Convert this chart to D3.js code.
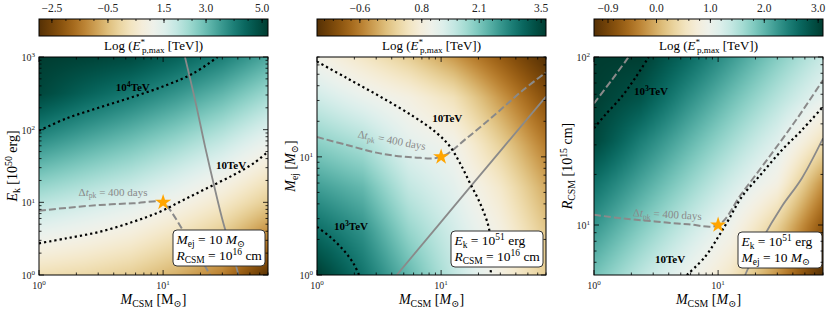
<!DOCTYPE html>
<html>
<head>
<meta charset="utf-8">
<script src="https://cdn.jsdelivr.net/npm/d3@7"></script>
<style>
  body { margin: 0; background: #fff; }
  svg { display: block; }
  text { font-family: "Liberation Serif", "DejaVu Serif", serif; }
</style>
</head>
<body>
<svg id="chart" width="830" height="310"></svg>
<script>
// ---------- data ----------
var mcsmDomain = [1, 70];
var ekDomain = [1, 1000];
var mejDomain = [1, 70];
var rcsmDomain = [5.04, 100];

var cbRange1 = [-2.96, 5.21], cbTicks1 = [-2.5, -0.5, 1.5, 3.0, 5.0];
var cbRange2 = [-1.57, 3.61], cbTicks2 = [-0.6, 0.8, 2.1, 3.5];
var cbRange3 = [-1.16, 3.09], cbTicks3 = [-0.9, 0.0, 1.0, 2.0, 3.0];

// heatmap nodes: columns = M_CSM, rows = y axis from top to bottom
var gridM = [1, 2.34, 5.5, 12.6, 30, 70];
var gridEk = [1000, 316, 100, 31.6, 10, 3.16, 1];
var logE1 = [
  [5.2, 5.1, 4.94, 4.5, 4.0, 3.34],
  [5.0, 4.5, 4.08, 3.64, 3.11, 2.44],
  [4.03, 3.6, 3.21, 2.77, 2.23, 1.54],
  [3.06, 2.7, 2.35, 1.9, 1.35, 0.64],
  [2.1, 1.8, 1.48, 1.03, 0.47, -0.26],
  [1.12, 0.9, 0.62, 0.16, -0.41, -1.4],
  [0.15, 0.0, -0.25, -0.7, -1.4, -2.9]
];
var gridMej = [70, 31.6, 12.6, 5.5, 2.34, 1];
var logE2 = [
  [0.93, 0.55, 0.15, -0.35, -0.95, -1.57],
  [1.43, 1.12, 0.85, 0.45, -0.35, -1.1],
  [2.0, 1.75, 1.22, 0.97, 0.2, -0.6],
  [2.52, 2.25, 1.55, 1.2, 0.6, -0.2],
  [3.04, 2.65, 1.9, 1.4, 0.85, 0.1],
  [3.6, 2.95, 2.25, 1.56, 0.85, 0.16]
];
var gridR = [100, 56.2, 31.6, 17.8, 10, 5.04];
var logE3 = [
  [3.09, 3.08, 2.67, 2.24, 1.79, 1.36],
  [3.07, 2.85, 2.35, 1.92, 1.48, 1.05],
  [2.99, 2.47, 2.03, 1.61, 1.16, 0.5],
  [2.59, 2.15, 1.72, 1.29, 0.84, -0.2],
  [2.27, 1.83, 1.4, 0.97, 0.3, -0.7],
  [1.89, 1.45, 1.02, 0.59, -0.2, -1.16]
];

// contour / constraint lines as [M_CSM, y] points
var p1Tev10 = [[1, 2.73], [1.67, 3.2], [3.1, 3.94], [5.76, 5.41], [9.46, 7.43], [14.6, 10.8], [22.5, 15.6], [36.9, 23.8], [53.5, 34.4], [70, 49.7]];
var p1Tev1e4 = [[1, 96.6], [1.67, 143], [3.1, 203], [5.76, 284], [10.7, 411], [17.5, 595], [27.5, 1000]];
var p1Dt400 = [[1, 7.67], [1.67, 8.4], [3.1, 9.18], [5.76, 9.7], [10, 10], [11.4, 7.8], [15.5, 3.37], [21.1, 1.45], [23.9, 1]];
var p1Solid = [[15.0, 1000], [18.1, 255], [21.8, 58], [25.5, 18.2], [30.6, 5.14], [36.9, 1.79], [40.5, 1]];

var p2Tev10 = [[1, 64], [1.74, 46.4], [3.22, 32.4], [5.98, 22], [9.23, 15.9], [11.8, 12.2], [14.2, 8.84], [17.1, 5.98], [20.6, 4.05], [24.1, 2.57], [25.1, 1.86], [25.1, 1]];
var p2Tev1e3 = [[1, 2.55], [1.27, 2.11], [1.63, 1.63], [1.96, 1.26], [2.18, 1]];
var p2Dt400 = [[1, 14.7], [1.74, 12.6], [3.22, 10.7], [5.98, 9.9], [10, 10], [16.1, 14.4], [28.1, 23.5], [46.1, 37], [70, 51.8]];
var p2Solid = [[4.39, 1], [17.5, 5.7], [70, 32.4]];

var p3Tev1e3 = [[1, 37.7], [1.23, 45.2], [1.67, 58], [2.14, 74.7], [2.76, 100]];
var p3DtTop = [[1, 53], [1.39, 72.9], [1.9, 100]];
var p3Tev10 = [[5.6, 5.04], [7.86, 6.47], [10.05, 8.52], [12.1, 10.7], [15.5, 14.7], [22.5, 20.3], [32.6, 27.9], [47.3, 36.7], [70, 50.6]];
var p3Dt400 = [[1, 11.5], [1.67, 10.96], [3.1, 10.5], [5.76, 10.1], [10, 10], [15.5, 15.4], [27.1, 26.7], [44.4, 44.2], [70, 73]];
var p3Solid = [[16.5, 5.04], [22.5, 8.14], [32.6, 12.9], [47.3, 19], [70, 32.8]];

var starPoint = [10, 10];

// ---------- layout ----------
var W = 229, H = 218, TOP = 57;
var GRAY = "#8a8a8a";
var svg = d3.select("#chart");
var fmt = d3.format(".1f");

// rich text: parts are [text, code]; r roman, i italic, b bold, s sub, p sup, bp bold sup
function rich(g, parts, size) {
  var t = g.append("text").attr("font-size", size);
  var shift = 0;
  parts.forEach(function(p) {
    var code = p[1] || "r";
    var s = t.append("tspan").text(p[0]);
    var target = 0;
    if (code.indexOf("s") === 0) target = size * 0.22;
    if (code.indexOf("p") >= 0) target = -size * 0.38;
    if (target !== shift) s.attr("dy", target - shift);
    shift = target;
    if (target !== 0) s.attr("font-size", size * 0.7);
    if (code.indexOf("i") >= 0) s.attr("font-style", "italic");
    if (code.indexOf("b") >= 0) s.attr("font-weight", "bold");
    if (p[2]) s.attr("dx", p[2]);
  });
  return t;
}

function bilerp(gx, gy, vals, lx, ly) {
  var c = 0; while (c < gx.length - 2 && lx > gx[c + 1]) c++;
  var r = 0; while (r < gy.length - 2 && ly < gy[r + 1]) r++;
  var tx = Math.max(0, Math.min(1, (lx - gx[c]) / (gx[c + 1] - gx[c])));
  var ty = Math.max(0, Math.min(1, (ly - gy[r]) / (gy[r + 1] - gy[r])));
  var a = vals[r][c] * (1 - tx) + vals[r][c + 1] * tx;
  var b = vals[r + 1][c] * (1 - tx) + vals[r + 1][c + 1] * tx;
  return a * (1 - ty) + b * ty;
}

function isPow10(v) {
  var l = Math.log10(v);
  return Math.abs(l - Math.round(l)) < 1e-9;
}

function drawPanel(p, idx) {
  var x = d3.scaleLog().domain(mcsmDomain).range([0, W]);
  var y = d3.scaleLog().domain(p.yDomain).range([H, 0]);
  var colour = d3.scaleSequential(d3.interpolateBrBG).domain(p.cbRange);

  // colorbar
  var cb = svg.append("g").attr("transform", "translate(" + p.left + ",19)");
  var cx = d3.scaleLinear().domain(p.cbRange).range([0, W]);
  var grad = svg.append("defs").append("linearGradient").attr("id", "cbg" + idx);
  d3.range(0, 1.0001, 0.05).forEach(function(t) {
    grad.append("stop").attr("offset", t).attr("stop-color", d3.interpolateBrBG(t));
  });
  cb.append("rect").attr("width", W).attr("height", 17)
    .attr("fill", "url(#cbg" + idx + ")").attr("stroke", "#000").attr("stroke-width", 1);
  var mt = Math.ceil(p.cbRange[0] / p.cbMinor) * p.cbMinor;
  for (var v = mt; v <= p.cbRange[1]; v += p.cbMinor) {
    cb.append("line").attr("x1", cx(v)).attr("x2", cx(v)).attr("y1", 0).attr("y2", 2)
      .attr("stroke", "#000").attr("stroke-width", 0.8);
  }
  p.cbTicks.forEach(function(v) {
    cb.append("line").attr("x1", cx(v)).attr("x2", cx(v)).attr("y1", 0).attr("y2", 4)
      .attr("stroke", "#000").attr("stroke-width", 0.8);
    cb.append("text").attr("x", cx(v)).attr("y", -7).attr("text-anchor", "middle")
      .attr("font-size", 11.5).attr("fill", "#222").text(fmt(v));
  });
  rich(svg.append("g"), [["Log (", "r"], ["E", "i"], ["*", "p"], ["p,max", "s", -3], [" [TeV])", "r"]], 13)
    .attr("x", p.left + W / 2).attr("y", 50).attr("text-anchor", "middle");

  var g = svg.append("g").attr("transform", "translate(" + p.left + "," + TOP + ")");

  // heatmap
  var canvas = document.createElement("canvas");
  canvas.width = W; canvas.height = H;
  var ctx = canvas.getContext("2d");
  var img = ctx.createImageData(W, H);
  var gx = gridM.map(Math.log10), gy = p.gridY.map(Math.log10);
  for (var j = 0; j < H; j++) {
    for (var i = 0; i < W; i++) {
      var val = bilerp(gx, gy, p.grid, Math.log10(x.invert(i + 0.5)), Math.log10(y.invert(j + 0.5)));
      var c = d3.rgb(colour(val));
      var k = (j * W + i) * 4;
      img.data[k] = c.r; img.data[k + 1] = c.g; img.data[k + 2] = c.b; img.data[k + 3] = 255;
    }
  }
  ctx.putImageData(img, 0, 0);
  g.append("image").attr("width", W).attr("height", H).attr("href", canvas.toDataURL());

  g.append("clipPath").attr("id", "clip" + idx)
    .append("rect").attr("width", W).attr("height", H);
  var lines = g.append("g").attr("clip-path", "url(#clip" + idx + ")");
  var line = d3.line().x(function(d) { return x(d[0]); }).y(function(d) { return y(d[1]); })
    .curve(d3.curveCatmullRom.alpha(0.5));

  p.solid.forEach(function(s) {
    lines.append("path").attr("d", line(s)).attr("fill", "none")
      .attr("stroke", GRAY).attr("stroke-width", 1.8);
  });
  p.dashed.forEach(function(s) {
    lines.append("path").attr("d", line(s)).attr("fill", "none")
      .attr("stroke", GRAY).attr("stroke-width", 2).attr("stroke-dasharray", "7,3");
  });
  p.dotted.forEach(function(s) {
    lines.append("path").attr("d", line(s)).attr("fill", "none")
      .attr("stroke", "#000").attr("stroke-width", 2.2).attr("stroke-dasharray", "2.2,3");
  });

  // labels on the contours
  p.labels.forEach(function(l) {
    rich(g, l.parts, l.size).attr("text-anchor", "middle")
      .attr("fill", l.colour || "#000")
      .attr("transform", "translate(" + x(l.at[0]) + "," + y(l.at[1]) + ") rotate(" + (l.rot || 0) + ")");
  });

  // star
  g.append("path").attr("d", d3.symbol(d3.symbolStar).size(80)())
    .attr("transform", "translate(" + x(starPoint[0]) + "," + y(starPoint[1]) + ")")
    .attr("fill", "#ffa500");

  // legend box
  var lg = g.append("g").attr("transform", "translate(" + p.box[0] + "," + p.box[1] + ")");
  lg.append("rect").attr("width", p.box[2]).attr("height", 36).attr("rx", 4)
    .attr("fill", "#fff").attr("stroke", "#333").attr("stroke-width", 1);
  rich(lg, p.legend[0], 13.5).attr("x", 3.5).attr("y", 14);
  rich(lg, p.legend[1], 13.5).attr("x", 3.5).attr("y", 30);

  // frame and ticks (inward, all sides)
  g.append("rect").attr("width", W).attr("height", H).attr("fill", "none")
    .attr("stroke", "#000").attr("stroke-width", 1);
  var tk = g.append("g").attr("stroke", "#000").attr("stroke-width", 0.8);
  x.ticks().forEach(function(v) {
    var len = isPow10(v) ? 5 : 2.5, px = x(v);
    tk.append("line").attr("x1", px).attr("x2", px).attr("y1", H).attr("y2", H - len);
    tk.append("line").attr("x1", px).attr("x2", px).attr("y1", 0).attr("y2", len);
    if (isPow10(v)) {
      rich(g, [["10", "r"], [String(Math.round(Math.log10(v))), "p"]], 10)
        .attr("x", px).attr("y", H + 14).attr("text-anchor", "middle").attr("fill", "#222");
    }
  });
  y.ticks().forEach(function(v) {
    var len = isPow10(v) ? 5 : 2.5, py = y(v);
    tk.append("line").attr("x1", 0).attr("x2", len).attr("y1", py).attr("y2", py);
    tk.append("line").attr("x1", W).attr("x2", W - len).attr("y1", py).attr("y2", py);
    if (isPow10(v)) {
      rich(g, [["10", "r"], [String(Math.round(Math.log10(v))), "p"]], 10)
        .attr("x", -4).attr("y", py + 4).attr("text-anchor", "end").attr("fill", "#222");
    }
  });

  // axis titles
  rich(g, p.xTitle, 14).attr("x", W / 2).attr("y", H + 29).attr("text-anchor", "middle");
  rich(g, p.yTitle, 14).attr("text-anchor", "middle")
    .attr("transform", "translate(-22," + (H / 2) + ") rotate(-90)");
}

var dtLabel = [["Δ", "r"], ["t", "i"], ["pk", "s"], [" = 400 days", "r"]];
var mSun = [["M", "i"], ["⊙", "s"]];
var legMej = [["M", "i"], ["ej", "s"], [" = 10 ", "r"], ["M", "i"], ["⊙", "s"]];
var legRcsm = [["R", "i"], ["CSM", "s"], [" = 10", "r"], ["16", "p"], [" cm", "r"]];
var legEk = [["E", "i"], ["k", "s"], [" = 10", "r"], ["51", "p"], [" erg", "r"]];

var panels = [
  {
    left: 39, yDomain: ekDomain, gridY: gridEk, grid: logE1,
    cbRange: cbRange1, cbTicks: cbTicks1, cbMinor: 0.5,
    dotted: [p1Tev10, p1Tev1e4], dashed: [p1Dt400], solid: [p1Solid],
    labels: [
      { parts: [["10", "b"], ["4", "bp"], ["TeV", "b"]], size: 11, at: [5.7, 340] },
      { parts: [["10TeV", "b"]], size: 11, at: [35.3, 28.7] },
      { parts: dtLabel, size: 11, at: [3.95, 12.2], colour: GRAY }
    ],
    box: [134, 173, 92], legend: [legMej, legRcsm],
    xTitle: [["M", "i"], ["CSM", "s"], [" [M", "r"], ["⊙", "s"], ["]", "r"]],
    yTitle: [["E", "i"], ["k", "s"], [" [10", "r"], ["50", "p"], [" erg]", "r"]]
  },
  {
    left: 317, yDomain: mejDomain, gridY: gridMej, grid: logE2,
    cbRange: cbRange2, cbTicks: cbTicks2, cbMinor: 0.2,
    dotted: [p2Tev10, p2Tev1e3], dashed: [p2Dt400], solid: [p2Solid],
    labels: [
      { parts: [["10TeV", "b"]], size: 11, at: [11.2, 19.8] },
      { parts: [["10", "b"], ["3", "bp"], ["TeV", "b"]], size: 11, at: [1.88, 2.41] },
      { parts: dtLabel, size: 11, at: [3.95, 12.9], colour: GRAY, rot: 10.5 }
    ],
    box: [134, 174, 92], legend: [legEk, legRcsm],
    xTitle: [["M", "i"], ["CSM", "s"], [" [", "r"]].concat(mSun, [["]", "r"]]),
    yTitle: [["M", "i"], ["ej", "s"], [" [", "r"]].concat(mSun, [["]", "r"]])
  },
  {
    left: 594, yDomain: rcsmDomain, gridY: gridR, grid: logE3,
    cbRange: cbRange3, cbTicks: cbTicks3, cbMinor: 0.2,
    dotted: [p3Tev10, p3Tev1e3], dashed: [p3Dt400, p3DtTop], solid: [p3Solid],
    labels: [
      { parts: [["10", "b"], ["3", "bp"], ["TeV", "b"]], size: 11, at: [2.88, 59.4] },
      { parts: [["10TeV", "b"]], size: 11, at: [4.1, 5.94] },
      { parts: dtLabel, size: 11, at: [3.88, 11], colour: GRAY, rot: 3 }
    ],
    box: [144, 175, 84], legend: [legEk, legMej],
    xTitle: [["M", "i"], ["CSM", "s"], [" [", "r"]].concat(mSun, [["]", "r"]]),
    yTitle: [["R", "i"], ["CSM", "s"], [" [10", "r"], ["15", "p"], [" cm]", "r"]]
  }
];

panels.forEach(drawPanel);
</script>
</body>
</html>
